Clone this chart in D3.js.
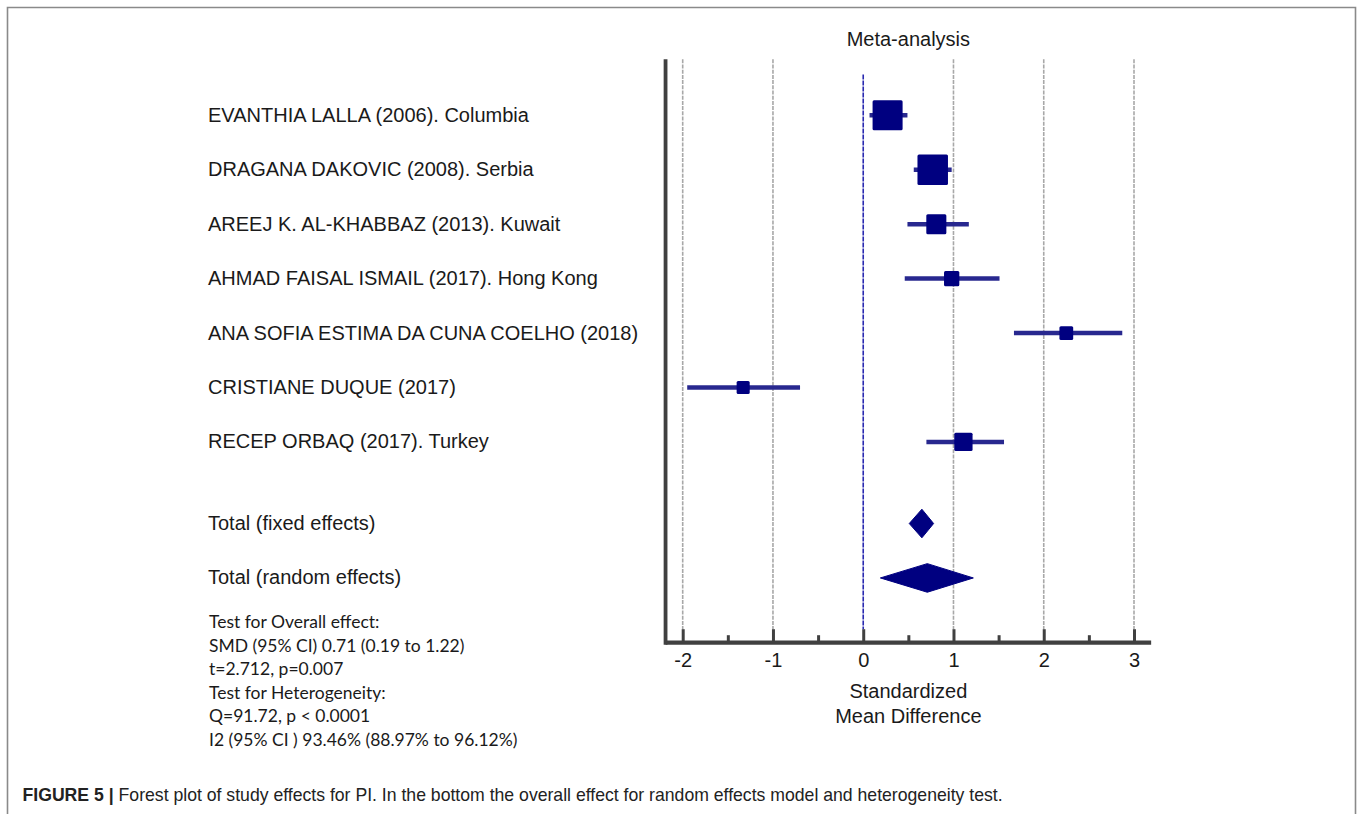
<!DOCTYPE html>
<html>
<head>
<meta charset="utf-8">
<script src="https://cdn.jsdelivr.net/npm/d3@7"></script>
<style>
  body { margin: 0; background: #fff; }
  svg { display: block; }
</style>
</head>
<body>
<script>
// Study-level standardized mean differences with 95% CI
const studies = [
  "EVANTHIA LALLA (2006). Columbia",
  "DRAGANA DAKOVIC (2008). Serbia",
  "AREEJ K. AL-KHABBAZ (2013). Kuwait",
  "AHMAD FAISAL ISMAIL (2017). Hong Kong",
  "ANA SOFIA ESTIMA DA CUNA COELHO (2018)",
  "CRISTIANE DUQUE (2017)",
  "RECEP ORBAQ (2017). Turkey"
];
const estimates = [0.27, 0.77, 0.81, 0.98, 2.25, -1.33, 1.11];
const ciLower   = [0.07, 0.56, 0.49, 0.46, 1.67, -1.95, 0.70];
const ciUpper   = [0.49, 0.98, 1.17, 1.51, 2.87, -0.70, 1.56];
const weights   = [28.5, 29.4, 12.7, 7.4, 6.0, 5.4, 10.6];   // % weight, sets marker size

// Pooled estimates
const pooledLabels    = ["Total (fixed effects)", "Total (random effects)"];
const pooledEstimates = [0.65, 0.71];
const pooledLower     = [0.51, 0.19];
const pooledUpper     = [0.78, 1.22];

// Axis ticks
const xTicks = [-2, -1, 0, 1, 2, 3];
const xMinorTicks = [-1.5, -0.5, 0.5, 1.5, 2.5];

// Summary statistics printed under the labels
const statLines = [
  "Test for Overall effect:",
  "SMD (95% CI) 0.71 (0.19 to 1.22)",
  "t=2.712, p=0.007",
  "Test for Heterogeneity:",
  "Q=91.72, p < 0.0001",
  "I2 (95% CI ) 93.46% (88.97% to 96.12%)"
];

const W = 1357, H = 814;
const svg = d3.select("body").append("svg").attr("width", W).attr("height", H);

// Frame (open at the bottom)
svg.append("path")
  .attr("d", `M7.5,${H} V7.5 H1355.5 V${H}`)
  .attr("fill", "none").attr("stroke", "#8a8a8a").attr("stroke-width", 1.6);

const x = d3.scaleLinear().domain([-2, 3]).range([682.7, 1134]);
// Row index -> vertical position (studies 0..6, pooled rows at 7.5 and 8.5)
const y = d3.scaleLinear().domain([-1.03, 9.69]).range([59.3, 642.7]);
const side = d3.scaleSqrt().domain([0, 29.4]).range([0, 30.5]);

const axisY = y(9.69);
const plotTop = y(-1.03);
const tickTop = axisY - 13.5;

const navy = "#000080";
const ciColor = "#28288f";
const labelX = 208;
const font = "'Liberation Sans', Arial, Helvetica, sans-serif";

// Title
svg.append("text")
  .attr("x", x(0.5)).attr("y", 46)
  .attr("text-anchor", "middle")
  .attr("font-family", font).attr("font-size", 20).attr("fill", "#1a1a1a")
  .text("Meta-analysis");

// Vertical gridlines
svg.append("g").selectAll("line").data(xTicks.filter(d => d !== 0)).join("line")
  .attr("x1", d => x(d)).attr("x2", d => x(d))
  .attr("y1", plotTop).attr("y2", tickTop)
  .attr("stroke", "#a8a8a8").attr("stroke-width", 1.6)
  .attr("stroke-dasharray", "4,1.2");

// Line of no effect
svg.append("line")
  .attr("x1", x(0)).attr("x2", x(0))
  .attr("y1", y(-0.75)).attr("y2", tickTop)
  .attr("stroke", "#2a2ab0").attr("stroke-width", 1.6)
  .attr("stroke-dasharray", "5,1");

// Axes: major and minor ticks pointing inward
const axisG = svg.append("g").attr("transform", `translate(0,${axisY})`);
axisG.call(d3.axisBottom(x).tickValues(xTicks).tickSize(-13.5).tickSizeOuter(0)
    .tickPadding(10.5).tickFormat(d => String(d)))
  .call(g => g.select(".domain").remove())
  .call(g => g.selectAll(".tick line").attr("stroke", "#404040").attr("stroke-width", 3))
  .call(g => g.selectAll(".tick text").attr("font-family", font).attr("font-size", 20).attr("fill", "#1a1a1a"));
axisG.append("g").call(d3.axisBottom(x).tickValues(xMinorTicks).tickSize(-7.5).tickSizeOuter(0).tickFormat(""))
  .call(g => g.select(".domain").remove())
  .call(g => g.selectAll(".tick line").attr("stroke", "#404040").attr("stroke-width", 3));

// Axis lines
svg.append("line")
  .attr("x1", x(-2.19)).attr("x2", x(3.19)).attr("y1", axisY).attr("y2", axisY)
  .attr("stroke", "#404040").attr("stroke-width", 4.2);
svg.append("line")
  .attr("x1", x(-2.19)).attr("x2", x(-2.19)).attr("y1", plotTop).attr("y2", axisY + 2.1)
  .attr("stroke", "#404040").attr("stroke-width", 3.8);

// Axis title
svg.append("text")
  .attr("x", x(0.5)).attr("y", 698.3)
  .attr("text-anchor", "middle").attr("font-family", font).attr("font-size", 20).attr("fill", "#1a1a1a")
  .selectAll("tspan").data(["Standardized", "Mean Difference"]).join("tspan")
  .attr("x", x(0.5)).attr("dy", (d, i) => i ? 24.4 : 0).text(d => d);

// Study labels
svg.append("g").selectAll("text").data(studies).join("text")
  .attr("x", labelX).attr("y", (d, i) => y(i) + 6.5)
  .attr("font-family", font).attr("font-size", 20).attr("fill", "#1a1a1a")
  .text(d => d);

// Confidence intervals
svg.append("g").selectAll("line").data(studies).join("line")
  .attr("x1", (d, i) => x(ciLower[i])).attr("x2", (d, i) => x(ciUpper[i]))
  .attr("y1", (d, i) => y(i)).attr("y2", (d, i) => y(i))
  .attr("stroke", ciColor).attr("stroke-width", 4.5);

// Weighted study markers
svg.append("g").selectAll("rect").data(studies).join("rect")
  .attr("x", (d, i) => x(estimates[i]) - side(weights[i]) / 2)
  .attr("y", (d, i) => y(i) - side(weights[i]) / 2)
  .attr("width", (d, i) => side(weights[i]))
  .attr("height", (d, i) => side(weights[i]))
  .attr("rx", 1.5)
  .attr("fill", navy);

// Pooled rows
const pooledRows = [7.5, 8.5];
svg.append("g").selectAll("text").data(pooledLabels).join("text")
  .attr("x", labelX).attr("y", (d, i) => y(pooledRows[i]) + 6.5)
  .attr("font-family", font).attr("font-size", 20).attr("fill", "#1a1a1a")
  .text(d => d);

svg.append("g").selectAll("path").data(pooledLabels).join("path")
  .attr("d", (d, i) => {
    const cy = y(pooledRows[i]), h = 14.3;
    return `M${x(pooledLower[i])},${cy} L${x(pooledEstimates[i])},${cy - h} ` +
           `L${x(pooledUpper[i])},${cy} L${x(pooledEstimates[i])},${cy + h} Z`;
  })
  .attr("fill", navy).attr("stroke", navy).attr("stroke-width", 1).attr("stroke-linejoin", "round");

// Summary statistics block
svg.append("g").selectAll("text").data(statLines).join("text")
  .attr("x", labelX + 1).attr("y", (d, i) => 628 + i * 23.6)
  .attr("font-family", "Lato, 'Open Sans', sans-serif").attr("font-size", 17.5).attr("fill", "#1a1a1a")
  .text(d => d);

// Figure caption
const cap = svg.append("text")
  .attr("transform", "translate(22.5,800.5) scale(0.98,1)")
  .attr("font-family", font)
  .attr("font-size", 18).attr("fill", "#222");
cap.append("tspan").attr("font-weight", "bold").text("FIGURE 5");
cap.append("tspan").attr("font-weight", "bold").text(" | ");
cap.append("tspan").text("Forest plot of study effects for PI. In the bottom the overall effect for random effects model and heterogeneity test.");
</script>
</body>
</html>
